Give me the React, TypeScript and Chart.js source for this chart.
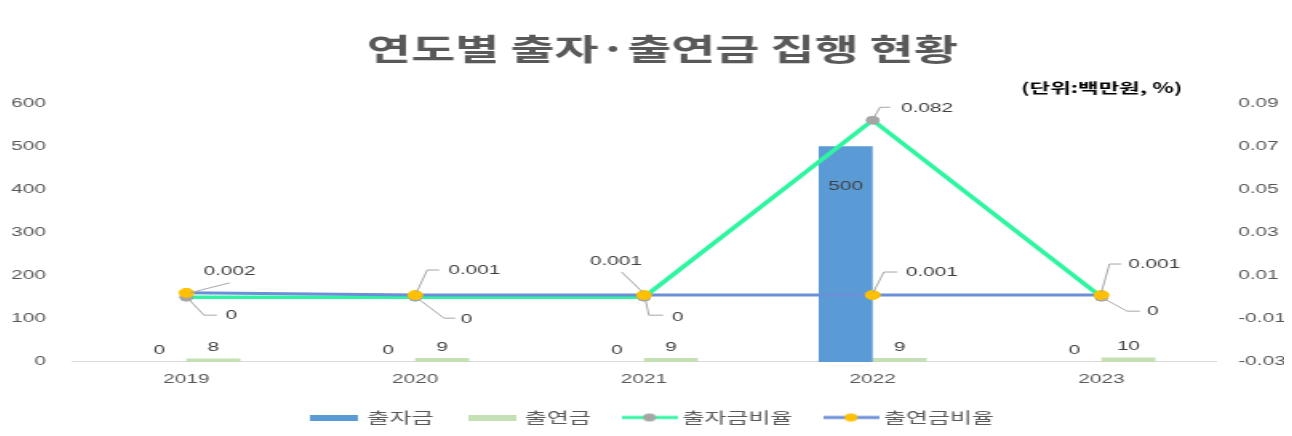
import React, { useEffect, useRef } from "react";
import { Chart, registerables } from "chart.js";

Chart.register(...registerables);

// ---------- data ----------
const years = ["2019", "2020", "2021", "2022", "2023"];
const investment = [0, 0, 0, 500, 0]; // 출자금
const contribution = [8, 9, 9, 9, 10]; // 출연금
const investmentRatio = [0, 0, 0, 0.082, 0]; // 출자금비율
const contributionRatio = [0.002, 0.001, 0.001, 0.001, 0.001]; // 출연금비율
const seriesNames = ["출자금", "출연금", "출자금비율", "출연금비율"];
const chartTitle = "연도별 출자·출연금 집행 현황";
const unitNote = "(단위:백만원, %)";

// ---------- look ----------
const STRETCH = 1.5998; // the reference is stretched horizontally
const CANVAS_W = 802;
const CANVAS_H = 428;
const TICK_FONT = '"Liberation Sans", "DejaVu Sans", sans-serif';
const KR_FONT = '"Noto Sans CJK KR", "Noto Sans", sans-serif';

const colors = {
  investment: "#5b9bd5",
  contribution: "#c5e0b4",
  investmentLine: "#2ef59f",
  investmentPoint: "#a5a5a5",
  contributionLine: "#6b8fd8",
  contributionPoint: "#ffc000",
};

// label placement for the ratio series (offsets from the point, in canvas units)
const ratioLabelLayout: Record<number, { dx: number; dy: number; path: number[][] }[]> = {
  2: [
    { dx: 28, dy: 18, path: [[2, 3], [11, 18], [19, 18]] },
    { dx: 32, dy: 22, path: [[3, 3], [18, 21], [25, 21]] },
    { dx: 21, dy: 20, path: [[1, 3], [3, 18], [12, 18]] },
    { dx: 34, dy: -12, path: [[1, -3], [4.5, -13], [11, -13]] },
    { dx: 32, dy: 14, path: [[1, 1], [16, 14], [24, 14]] },
  ],
  3: [
    { dx: 27, dy: -21, path: [[2, 0], [27, -10]] },
    { dx: 37, dy: -25, path: [[1, -3], [7.5, -25], [15, -25]] },
    { dx: -17.5, dy: -34, path: [[-1, -3], [-14, -23]] },
    { dx: 37, dy: -23, path: [[0.5, -3], [7, -23], [15.5, -23]] },
    { dx: 33, dy: -31, path: [[0, -3], [5, -31], [12.5, -31]] },
  ],
};

function barIcon(color: string) {
  const c = document.createElement("canvas");
  c.width = 30;
  c.height = 6;
  const g = c.getContext("2d")!;
  g.fillStyle = color;
  g.fillRect(0, 0, 30, 6);
  return c;
}

function lineIcon(lineColor: string, dotColor: string) {
  const c = document.createElement("canvas");
  c.width = 35;
  c.height = 10;
  const g = c.getContext("2d")!;
  g.strokeStyle = lineColor;
  g.lineWidth = 3;
  g.beginPath();
  g.moveTo(0, 5);
  g.lineTo(35, 5);
  g.stroke();
  g.fillStyle = dotColor;
  g.beginPath();
  g.arc(17.5, 5, 4, 0, Math.PI * 2);
  g.fill();
  return c;
}

const shiftPlugin = {
  id: "shiftBoxes",
  afterLayout(chart: any) {
    if (chart.titleBlock) {
      chart.titleBlock.left += 9.3;
      chart.titleBlock.right += 9.3;
    }
    if (chart.legend) {
      chart.legend.left += 4;
      chart.legend.right += 4;
    }
  },
};

const valueLabelPlugin = {
  id: "valueLabels",
  afterDatasetsDraw(chart: any) {
    const ctx = chart.ctx as CanvasRenderingContext2D;
    ctx.save();
    ctx.font = `13px ${TICK_FONT}`;
    ctx.fillStyle = "#404040";
    ctx.textAlign = "center";
    ctx.textBaseline = "middle";
    [0, 1].forEach((di) => {
      const meta = chart.getDatasetMeta(di);
      const vals = chart.data.datasets[di].data as number[];
      meta.data.forEach((el: any, i: number) => {
        const v = vals[i];
        const inside = v >= 100;
        ctx.fillText(String(v), el.x, inside ? el.y + 40 : el.y - 11);
      });
    });
    [2, 3].forEach((di) => {
      const meta = chart.getDatasetMeta(di);
      const vals = chart.data.datasets[di].data as number[];
      const layout = ratioLabelLayout[di];
      meta.data.forEach((el: any, i: number) => {
        const L = layout[i];
        ctx.strokeStyle = "#a6a6a6";
        ctx.lineWidth = 1;
        ctx.beginPath();
        L.path.forEach(([px, py], k) => {
          if (k === 0) ctx.moveTo(el.x + px, el.y + py);
          else ctx.lineTo(el.x + px, el.y + py);
        });
        ctx.stroke();
        ctx.fillText(String(vals[i]), el.x + L.dx, el.y + L.dy);
      });
    });
    ctx.restore();
  },
};

const unitPlugin = {
  id: "unitNote",
  afterDraw(chart: any) {
    const ctx = chart.ctx as CanvasRenderingContext2D;
    ctx.save();
    ctx.font = `bold 14px ${KR_FONT}`;
    ctx.fillStyle = "#000000";
    ctx.textAlign = "right";
    ctx.textBaseline = "middle";
    ctx.fillText(unitNote, chart.chartArea.right - 21, 80);
    ctx.restore();
  },
};

export default function App() {
  const ref = useRef<HTMLCanvasElement | null>(null);

  useEffect(() => {
    if (!ref.current) return;
    const icons = [
      barIcon(colors.investment),
      barIcon(colors.contribution),
      lineIcon(colors.investmentLine, colors.investmentPoint),
      lineIcon(colors.contributionLine, colors.contributionPoint),
    ];
    const tickFont = { family: TICK_FONT, size: 13 };
    const chart = new Chart(ref.current, {
      type: "bar",
      data: {
        labels: years,
        datasets: [
          {
            type: "bar",
            label: seriesNames[0],
            data: investment,
            backgroundColor: colors.investment,
            yAxisID: "y",
            order: 2,
            categoryPercentage: 0.472,
            barPercentage: 1,
          },
          {
            type: "bar",
            label: seriesNames[1],
            data: contribution,
            backgroundColor: colors.contribution,
            yAxisID: "y",
            order: 3,
            categoryPercentage: 0.472,
            barPercentage: 1,
          },
          {
            type: "line",
            label: seriesNames[2],
            data: investmentRatio,
            borderColor: colors.investmentLine,
            borderWidth: 3.5,
            pointBackgroundColor: colors.investmentPoint,
            pointBorderColor: colors.investmentPoint,
            pointBorderWidth: 1,
            pointRadius: 4,
            yAxisID: "y1",
            order: 1,
          },
          {
            type: "line",
            label: seriesNames[3],
            data: contributionRatio,
            borderColor: colors.contributionLine,
            borderWidth: 3,
            pointBackgroundColor: colors.contributionPoint,
            pointBorderColor: colors.contributionPoint,
            pointBorderWidth: 1,
            pointRadius: 4.5,
            yAxisID: "y1",
            order: 0,
          },
        ] as any,
      },
      options: {
        responsive: false,
        animation: false,
        devicePixelRatio: 1,
        events: [],
        layout: { padding: { left: 0, right: 0, top: 0, bottom: 1 } },
        scales: {
          x: {
            grid: { display: false, drawTicks: false },
            border: { display: true, color: "#d9d9d9", width: 1 },
            ticks: { color: "#595959", font: tickFont, padding: 10 },
            afterFit: (s: any) => {
              s.height = 24.6;
            },
          },
          y: {
            position: "left",
            min: 0,
            max: 600,
            grid: { display: false, drawTicks: false },
            border: { display: false },
            ticks: { stepSize: 100, color: "#595959", font: tickFont, padding: 16.25 },
            afterFit: (s: any) => {
              s.width = 41.25;
            },
          },
          y1: {
            position: "right",
            min: -0.03,
            max: 0.09,
            grid: { display: false, drawTicks: false },
            border: { display: false },
            ticks: {
              stepSize: 0.02,
              color: "#595959",
              font: tickFont,
              padding: 14,
              callback: (v: any) => Number(v).toFixed(2),
            },
            afterFit: (s: any) => {
              s.width = 45.75;
            },
          },
        },
        plugins: {
          tooltip: { enabled: false },
          title: {
            display: true,
            text: chartTitle,
            color: "#595959",
            font: { family: KR_FONT, size: 30, weight: "bold" },
            padding: { top: 22.3, bottom: 36.7 },
          },
          legend: {
            display: true,
            position: "bottom",
            labels: {
              usePointStyle: true,
              pointStyleWidth: 26,
              padding: 23.5,
              color: "#595959",
              font: { family: KR_FONT, size: 15 },
              sort: (a: any, b: any) => a.datasetIndex - b.datasetIndex,
              generateLabels: (c: any) => {
                const base = (Chart.defaults.plugins.legend.labels as any).generateLabels(c);
                return base.map((it: any) => ({ ...it, pointStyle: icons[it.datasetIndex] }));
              },
            },
          },
        },
      } as any,
      plugins: [shiftPlugin, valueLabelPlugin, unitPlugin],
    });
    return () => chart.destroy();
  }, []);

  return (
    <div
      style={{
        width: 1283,
        height: 428,
        border: "1px solid #d9d9d9",
        margin: "-1px 0 0 -3px",
        overflow: "hidden",
        background: "#ffffff",
      }}
    >
      <canvas
        ref={ref}
        width={CANVAS_W}
        height={CANVAS_H}
        style={{ display: "block", transform: `scaleX(${STRETCH})`, transformOrigin: "0 0" }}
      />
    </div>
  );
}
